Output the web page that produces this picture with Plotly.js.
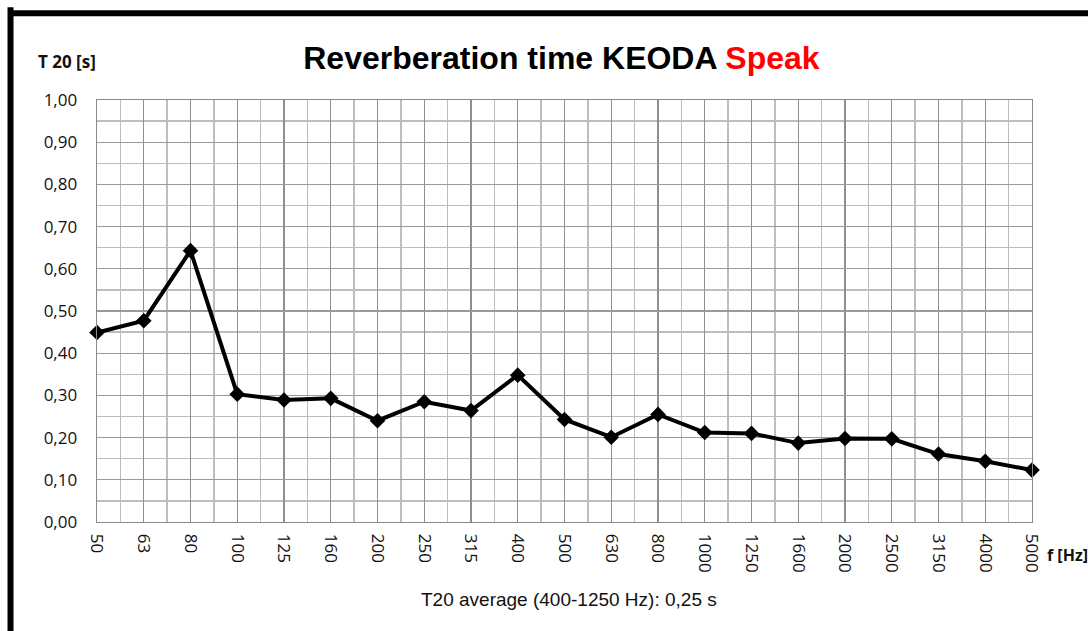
<!DOCTYPE html>
<html>
<head>
<meta charset="utf-8">
<script src="https://cdn.plot.ly/plotly-3.0.1.min.js"></script>
<style>
html,body{margin:0;padding:0;background:#fff;}
#chart{width:1088px;height:631px;}
</style>
</head>
<body>
<div id="chart"></div>
<script>
const frequencies = ["50","63","80","100","125","160","200","250","315","400","500","630","800","1000","1250","1600","2000","2500","3150","4000","5000"];
const t20 = [0.449,0.477,0.643,0.303,0.289,0.293,0.240,0.285,0.264,0.348,0.243,0.201,0.255,0.212,0.210,0.187,0.198,0.197,0.161,0.144,0.123];
const yTicks = [0,0.1,0.2,0.3,0.4,0.5,0.6,0.7,0.8,0.9,1.0];

const idx = frequencies.map((f,i)=>i);

const trace = {
  x: idx,
  y: t20,
  type: 'scatter',
  mode: 'lines+markers',
  line: {color:'#000', width:4},
  marker: {symbol:'diamond', size:12, color:'#000'},
  cliponaxis: false,
  hoverinfo: 'skip'
};

const tickFont = {family:'Open Sans, sans-serif', size:17, color:'#111'};

const layout = {
  width:1088, height:631,
  margin:{l:97, r:56, t:100, b:109},
  paper_bgcolor:'#fff', plot_bgcolor:'#fff',
  showlegend:false,
  separators:',.',
  title:{
    text:'<b>Reverberation time KEODA <span style="color:#ff0000">Speak</span></b>',
    font:{family:'Liberation Sans, Arial, sans-serif', size:32, color:'#000'},
    x:0.516, xanchor:'center', y:0.908, yanchor:'middle'
  },
  xaxis:{
    range:[0,20],
    tickmode:'array', tickvals:idx, ticktext:frequencies,
    tickangle:90,
    tickfont:tickFont,
    ticks:'', ticklabelstandoff:7,
    showgrid:true, gridcolor:'#8f8f8f', gridwidth:1.4,
    zeroline:false,
    showline:true, linecolor:'#8a8a8a', linewidth:1.4, mirror:true,
    minor:{tickmode:'linear', tick0:0, dtick:0.5, showgrid:true, gridcolor:'#bdbdbd', gridwidth:1.4, ticks:''},
    fixedrange:true
  },
  yaxis:{
    range:[0,1],
    tickmode:'array', tickvals:yTicks,
    tickformat:'.2f',
    tickfont:tickFont,
    ticks:'', ticklabelstandoff:15,
    showgrid:true, gridcolor:'#9a9a9a', gridwidth:1.4,
    zeroline:false,
    showline:true, linecolor:'#8a8a8a', linewidth:1.4, mirror:true,
    minor:{tickmode:'linear', tick0:0, dtick:0.05, showgrid:true, gridcolor:'#bdbdbd', gridwidth:1.4, ticks:''},
    fixedrange:true
  },
  shapes:[
    {type:'line', xref:'paper', yref:'paper', x0:-0.0925, x1:-0.0925, y0:1.22, y1:-0.3, line:{color:'#000', width:6}},
    {type:'line', xref:'paper', yref:'paper', x0:-0.0925, x1:1.06, y0:1.2055, y1:1.2055, line:{color:'#000', width:6}}
  ],
  annotations:[
    {text:'<b>T 20 [s]</b>', xref:'paper', yref:'paper', x:-0.0652, y:1.092, xanchor:'left', yanchor:'middle', showarrow:false,
     font:{family:'Open Sans, sans-serif', size:17, color:'#111'}},
    {text:'<b>f [Hz]</b>', xref:'paper', yref:'paper', x:1.014, y:-0.078, xanchor:'left', yanchor:'middle', showarrow:false,
     font:{family:'Open Sans, sans-serif', size:16, color:'#111'}},
    {text:'T20 average (400-1250 Hz): 0,25 s', xref:'paper', yref:'paper', x:0.505, y:-0.183, xanchor:'center', yanchor:'middle', showarrow:false,
     font:{family:'Liberation Sans, Arial, sans-serif', size:19, color:'#111'}}
  ]
};

Plotly.newPlot('chart', [trace], layout, {displayModeBar:false, staticPlot:true});
</script>
</body>
</html>
